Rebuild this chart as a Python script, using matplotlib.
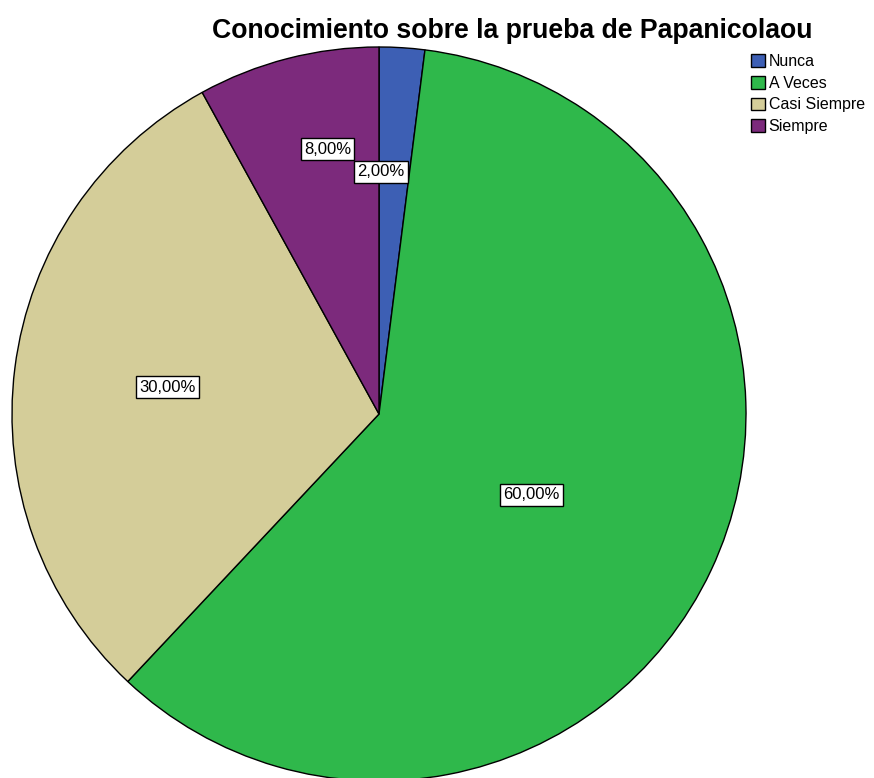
import numpy as np
import matplotlib.pyplot as plt

plt.rcParams['font.family'] = ['Liberation Sans', 'DejaVu Sans']

categories = ['Nunca', 'A Veces', 'Casi Siempre', 'Siempre']
values = [2.0, 60.0, 30.0, 8.0]
labels = ['2,00%', '60,00%', '30,00%', '8,00%']
colors = ['#3d5fb4', '#2fb84b', '#d4cd99', '#7c2a7c']
# how far out (as fraction of the radius) each label sits
label_dist = [0.66, 0.47, 0.58, 0.735]
label_shift = [3.1, -2.7, 0.0, -3.4]  # degrees, nudges along the arc

W, H = 874, 778
fig = plt.figure(figsize=(W / 100, H / 100), dpi=100)
ax = fig.add_axes([0, 0, 1, 1])

cx, cy, r = 379, H - 414, 367
wedges, _ = ax.pie(values, colors=colors, startangle=90, counterclock=False,
                   center=(cx, cy), radius=r,
                   wedgeprops=dict(edgecolor='black', linewidth=1.0))

# pie() resets the limits, so set them afterwards (1 unit = 1 pixel)
ax.set_xlim(0, W)
ax.set_ylim(0, H)
ax.set_aspect('equal')
ax.axis('off')

for w, lab, d, s in zip(wedges, labels, label_dist, label_shift):
    ang = np.deg2rad((w.theta1 + w.theta2) / 2 + s)
    x = cx + d * r * np.cos(ang)
    y = cy + d * r * np.sin(ang)
    ax.text(x, y, lab, ha='center', va='center', fontsize=12,
            bbox=dict(boxstyle='square,pad=0.2', facecolor='white',
                      edgecolor='black', linewidth=1.0))

ax.text(512, H - 31, 'Conocimiento sobre la prueba de Papanicolaou',
        ha='center', va='center', fontsize=19.2, fontweight='bold')

ax.legend(wedges, categories, loc='upper left', bbox_to_anchor=(751 / W, 1 - 54 / H),
          frameon=False, fontsize=11.5, handlelength=0.85, handleheight=0.85,
          handletextpad=0.25, labelspacing=0.42, borderaxespad=0, borderpad=0)

fig.savefig('out.png', dpi=100)
